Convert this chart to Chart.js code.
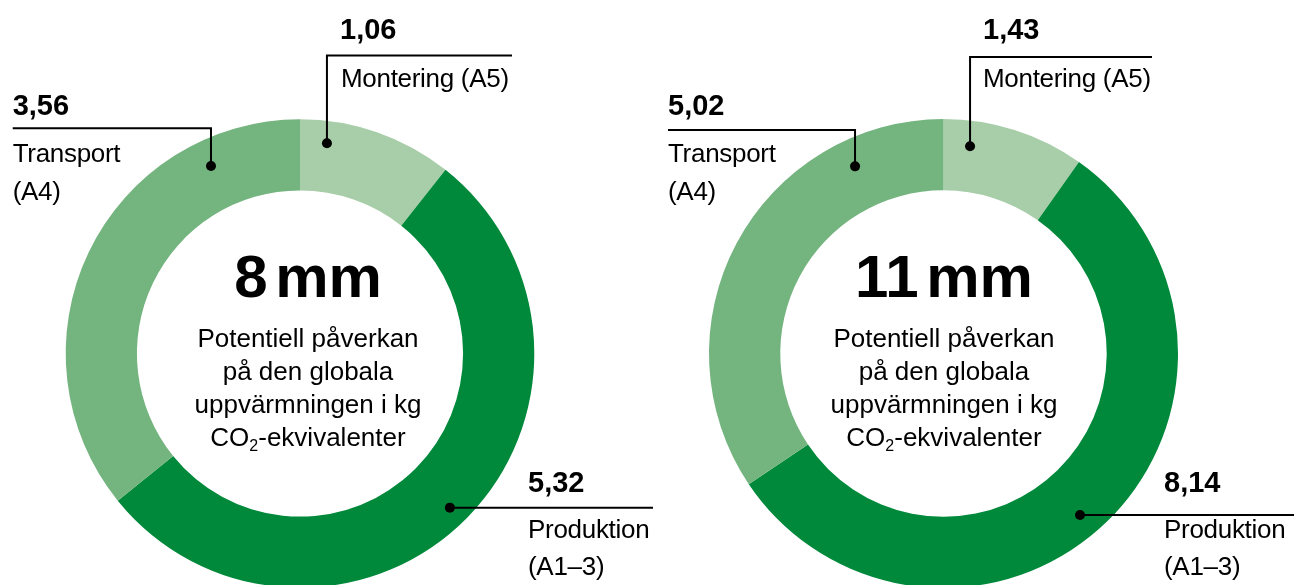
<!DOCTYPE html>
<html lang="sv">
<head>
<meta charset="utf-8">
<script src="https://cdn.jsdelivr.net/npm/chart.js@4.4.1/dist/chart.umd.min.js"></script>
<style>
  html, body { margin: 0; padding: 0; background: #fff; overflow: hidden; width: 1294px; height: 585px; }
  #wrap { position: relative; width: 1294px; height: 585px; overflow: hidden; }
  canvas { position: absolute; left: 0; top: 0; }
  .t { position: absolute; white-space: nowrap; font-family: "Liberation Sans", Arial, sans-serif; color: #000; line-height: 1; }
  .num { font-weight: bold; font-size: 29px; }
  .lab { font-size: 26px; letter-spacing: -0.3px; }
  .big { font-weight: bold; font-size: 60px; word-spacing: -9px; text-align: center; width: 300px; }
  .ctr { font-size: 26px; line-height: 33px; text-align: center; width: 320px; letter-spacing: 0px; }
  .ctr sub { font-size: 16px; vertical-align: -5px; line-height: 0; }
</style>
</head>
<body>
<div id="wrap">
  <canvas id="c1" width="1294" height="600"></canvas>
  <canvas id="c2" width="1294" height="600"></canvas>
</div>
<script>
// ---- data ----
const categories = ['Montering (A5)', 'Produktion (A1–3)', 'Transport (A4)'];
const labelLines = [['Montering (A5)'], ['Produktion', '(A1–3)'], ['Transport', '(A4)']];
const thickness = ['8 mm', '11 mm'];
const values8mm = [1.06, 5.32, 3.56];
const values11mm = [1.43, 8.14, 5.02];
const centerLines = ['Potentiell påverkan', 'på den globala', 'uppvärmningen i kg', 'CO<sub>2</sub>-ekvivalenter'];
const colors = ['#a8cea9', '#00893a', '#74b47f'];

// ---- layout ----
const charts = [
  {
    id: 'c1', values: values8mm, title: thickness[0],
    padding: { left: 65.7, right: 1294 - 534.3, top: 119, bottom: 600 - 588 },
    centerX: 308, bigBase: 298, ctrBase: 347,
    leaders: [
      { num: [340, 39], lab: [341, [87]], ang: 7.3, r: 212, elbowY: 55.5, endX: 512 },
      { num: [528, 492], lab: [528, [538, 575]], ang: 135.8, r: 215, endX: 653 },
      { num: [12.7, 115], lab: [12.7, [162, 200]], ang: -25.4, r: 207.5, elbowY: 128.3, endX: 12.7 }
    ]
  },
  {
    id: 'c2', values: values11mm, title: thickness[1],
    padding: { left: 709, right: 1294 - 1178, top: 119, bottom: 600 - 588 },
    centerX: 944, bigBase: 298, ctrBase: 347,
    leaders: [
      { num: [983, 39], lab: [983, [87]], ang: 7.3, r: 209, elbowY: 57, endX: 1152 },
      { num: [1164, 492], lab: [1164, [538, 575]], ang: 139.8, r: 211.5, endX: 1294 },
      { num: [668, 115], lab: [668, [162, 200]], ang: -25.3, r: 207, elbowY: 130, endX: 668 }
    ]
  }
];

const fmt = v => v.toFixed(2).replace('.', ',');
const wrap = document.getElementById('wrap');
function addText(cls, html, x, top) {
  const d = document.createElement('div');
  d.className = 't ' + cls;
  d.innerHTML = html;
  d.style.left = x + 'px';
  d.style.top = top + 'px';
  wrap.appendChild(d);
  return d;
}

const leaderPlugin = {
  id: 'leaders',
  afterDatasetsDraw(chart, args, opts) {
    const arcs = chart.getDatasetMeta(0).data;
    if (!arcs.length) return;
    const cx = arcs[0].x, cy = arcs[0].y;
    const ctx = chart.ctx;
    ctx.save();
    ctx.strokeStyle = '#000';
    ctx.fillStyle = '#000';
    ctx.lineWidth = 2;
    opts.leaders.forEach(L => {
      const th = L.ang * Math.PI / 180;
      const px = cx + L.r * Math.sin(th);
      const py = cy - L.r * Math.cos(th);
      ctx.beginPath();
      ctx.moveTo(px, py);
      if (L.elbowY !== undefined) {
        ctx.lineTo(px, L.elbowY);
        ctx.lineTo(L.endX, L.elbowY);
      } else {
        ctx.lineTo(L.endX, py);
      }
      ctx.stroke();
      ctx.beginPath();
      ctx.arc(px, py, 5, 0, Math.PI * 2);
      ctx.fill();
    });
    ctx.restore();
  }
};

charts.forEach(cfg => {
  new Chart(document.getElementById(cfg.id), {
    type: 'doughnut',
    data: {
      labels: categories,
      datasets: [{
        data: cfg.values,
        backgroundColor: colors,
        borderWidth: 0,
        hoverOffset: 0,
        offset: 0
      }]
    },
    options: {
      responsive: false,
      animation: false,
      cutout: '69.6%',
      rotation: 0,
      layout: { padding: cfg.padding },
      plugins: {
        legend: { display: false },
        tooltip: { enabled: false },
        leaders: { leaders: cfg.leaders }
      },
      events: []
    },
    plugins: [leaderPlugin]
  });

  cfg.leaders.forEach((L, i) => {
    addText('num', fmt(cfg.values[i]), L.num[0], L.num[1] - 24.5);
    labelLines[i].forEach((line, k) => {
      addText('lab', line, L.lab[0], L.lab[1][k] - 22);
    });
  });
  addText('big', cfg.title, cfg.centerX - 150, cfg.bigBase - 50.8);
  addText('ctr', centerLines.join('<br>'), cfg.centerX - 160, cfg.ctrBase - 25.5);
});
</script>
</body>
</html>
